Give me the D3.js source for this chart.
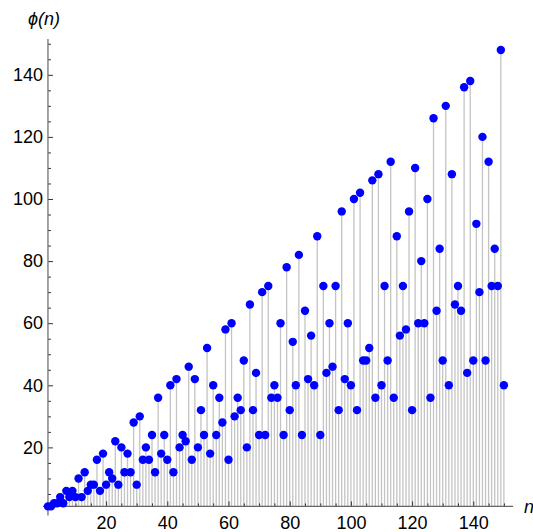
<!DOCTYPE html>
<html>
<head>
<meta charset="utf-8">
<script src="https://cdn.jsdelivr.net/npm/d3@7"></script>
<style>
  html, body { margin: 0; padding: 0; background: #fff; overflow: hidden; }
  text { font-family: "Liberation Sans", Arial, sans-serif; }
</style>
</head>
<body>
<div id="svg_container"></div>
<script>
/* -----------------------
data
------------------------- */

// n runs 1..150, phi values
var phi = [
  1, 1, 2, 2, 4, 2, 6, 4, 6, 4,
  10, 4, 12, 6, 8, 8, 16, 6, 18, 8,
  12, 10, 22, 8, 20, 12, 18, 12, 28, 8,
  30, 16, 20, 16, 24, 12, 36, 18, 24, 16,
  40, 12, 42, 20, 24, 22, 46, 16, 42, 20,
  32, 24, 52, 18, 40, 24, 36, 28, 58, 16,
  60, 30, 36, 32, 48, 20, 66, 32, 44, 24,
  70, 24, 72, 36, 40, 36, 60, 24, 78, 32,
  54, 40, 82, 24, 64, 42, 56, 40, 88, 24,
  72, 44, 60, 46, 72, 32, 96, 42, 60, 40,
  100, 32, 102, 48, 48, 52, 106, 36, 108, 40,
  72, 48, 112, 36, 88, 56, 72, 58, 96, 32,
  110, 60, 80, 60, 100, 36, 126, 64, 84, 48,
  130, 40, 108, 66, 72, 64, 136, 44, 138, 48,
  92, 70, 120, 48, 112, 72, 84, 72, 148, 40
];

var xTickLabels = [20, 40, 60, 80, 100, 120, 140];
var yTickLabels = [20, 40, 60, 80, 100, 120, 140];
var minorStep = 5;

/* -----------------------
main variables
------------------------- */

var width = 533;
var height = 532;

var origin = {x: 1, y: 1};   // where the axes cross

var x = d3.scaleLinear().domain([0, 150]).range([44.9, 503.9]);
var y = d3.scaleLinear().domain([0, 140]).range([509.5, 74.8]);

var svg = d3.select("#svg_container")
  .append("svg")
  .attr("width", width)
  .attr("height", height)
  .attr("viewBox", "0 0 " + width + " " + height);

var data = phi.map(function (v, i) { return {n: i + 1, phi: v}; });

/* -----------------------
stems
------------------------- */

svg.append("g")
  .selectAll("line")
  .data(data)
  .enter()
  .append("line")
  .attr("x1", function (d) { return x(d.n); })
  .attr("x2", function (d) { return x(d.n); })
  .attr("y1", y(origin.y))
  .attr("y2", function (d) { return y(d.phi); })
  .attr("stroke", "#c4c4c4")
  .attr("stroke-width", 1.3);

/* -----------------------
axes
------------------------- */

var minorX = d3.range(minorStep, 151, minorStep).filter(function (v) { return v % 20 !== 0; });
var minorY = d3.range(minorStep, 151, minorStep).filter(function (v) { return v % 20 !== 0; });

var axes = svg.append("g").attr("class", "axes");

// x axis
var gx = axes.append("g").attr("transform", "translate(0," + y(origin.y) + ")");

gx.call(d3.axisBottom(x).tickValues(minorX).tickSize(-3).tickFormat(""));
gx.append("g").call(d3.axisBottom(x).tickValues(xTickLabels).tickSize(-5).tickPadding(9.5));

// y axis
var gy = axes.append("g").attr("transform", "translate(" + x(origin.x) + ",0)");

gy.call(d3.axisLeft(y).tickValues(minorY).tickSize(-3).tickFormat(""));
gy.append("g").call(d3.axisLeft(y).tickValues(yTickLabels).tickSize(-5).tickPadding(5));

axes.selectAll(".domain").remove();
axes.selectAll(".tick line").attr("stroke", "#333").attr("stroke-width", 1);
axes.selectAll(".tick text")
  .attr("fill", "#000")
  .style("font-size", "18px")
  .style("font-family", "'Liberation Sans', Arial, sans-serif");

// axis lines, a little past the origin like mathematica
axes.append("line")
  .attr("x1", x(origin.x) - 5)
  .attr("x2", x(153))
  .attr("y1", y(origin.y))
  .attr("y2", y(origin.y))
  .attr("stroke", "#666")
  .attr("stroke-width", 1.2);

axes.append("line")
  .attr("x1", x(origin.x))
  .attr("x2", x(origin.x))
  .attr("y1", y(origin.y) + 9)
  .attr("y2", y(151.5))
  .attr("stroke", "#666")
  .attr("stroke-width", 1.2);

/* -----------------------
points on top
------------------------- */

svg.append("g")
  .selectAll("circle")
  .data(data)
  .enter()
  .append("circle")
  .attr("cx", function (d) { return x(d.n); })
  .attr("cy", function (d) { return y(d.phi); })
  .attr("r", 4.2)
  .attr("fill", "#0000ff");

/* -----------------------
axis labels
------------------------- */

svg.append("text")
  .attr("x", 28)
  .attr("y", 25)
  .style("font-size", "18px")
  .style("font-style", "italic")
  .text("ϕ(n)");

svg.append("text")
  .attr("x", 524)
  .attr("y", 513)
  .style("font-size", "18px")
  .style("font-style", "italic")
  .text("n");
</script>
</body>
</html>
